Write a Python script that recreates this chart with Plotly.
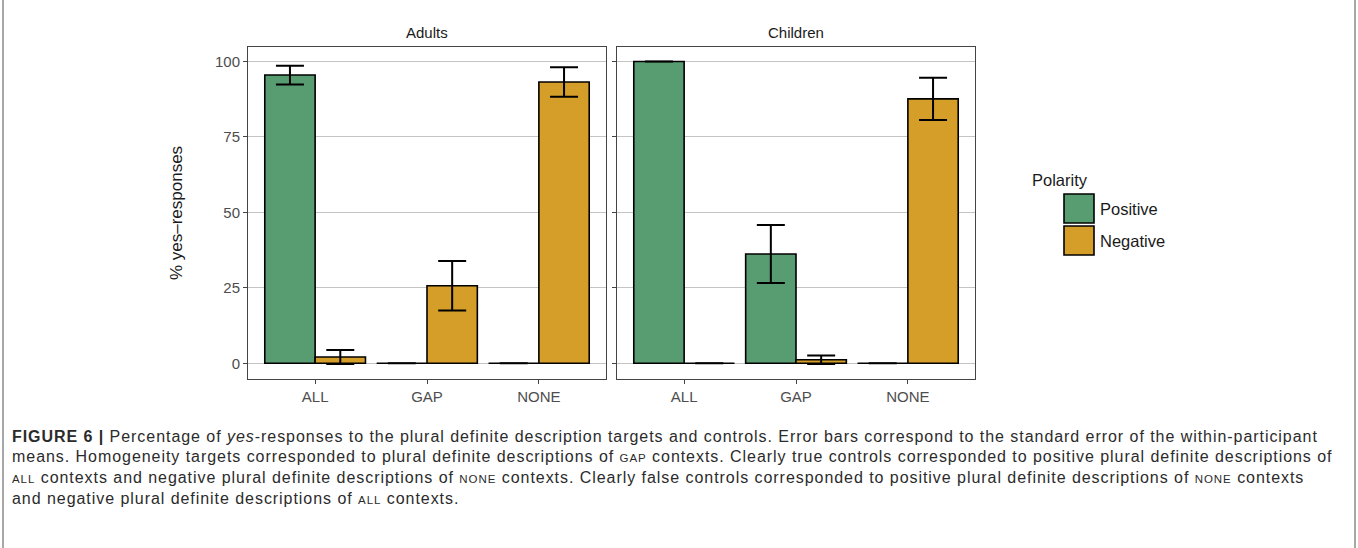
import plotly.graph_objects as go

# ---- data ----
categories = ["ALL", "GAP", "NONE"]
panels = ["Adults", "Children"]
polarities = ["Positive", "Negative"]

adults_positive = [95.5, 0.0, 0.0]
adults_positive_se = [3.1, 0.0, 0.0]
adults_negative = [2.1, 25.7, 93.2]
adults_negative_se = [2.3, 8.2, 4.9]

children_positive = [100.0, 36.2, 0.0]
children_positive_se = [0.0, 9.6, 0.0]
children_negative = [0.0, 1.2, 87.6]
children_negative_se = [0.0, 1.4, 7.0]

y_ticks = [0, 25, 50, 75, 100]

colors = {"Positive": "#589D72", "Negative": "#D49E29"}

W, H = 1358, 548


def px(x):
    return x / W


def py(y):
    return 1 - y / H


fig = go.Figure()

series = {
    ("Adults", "Positive"): (adults_positive, adults_positive_se),
    ("Adults", "Negative"): (adults_negative, adults_negative_se),
    ("Children", "Positive"): (children_positive, children_positive_se),
    ("Children", "Negative"): (children_negative, children_negative_se),
}

for i, panel in enumerate(panels):
    xa = "x" if i == 0 else "x2"
    ya = "y" if i == 0 else "y2"
    for pol in polarities:
        vals, se = series[(panel, pol)]
        fig.add_trace(go.Bar(
            x=categories, y=vals, name=pol, offsetgroup=pol,
            xaxis=xa, yaxis=ya, showlegend=False,
            marker=dict(color=colors[pol], line=dict(color="black", width=1.6)),
            error_y=dict(type="data", array=se, visible=True, color="black",
                         thickness=2, width=14),
        ))

axis_common = dict(
    showline=True, linecolor="#444", linewidth=1, mirror=True,
    ticks="outside", ticklen=4, tickcolor="#444", tickwidth=1,
    zeroline=False,
)

fig.update_layout(
    width=W, height=H,
    margin=dict(l=0, r=0, t=0, b=0),
    paper_bgcolor="white", plot_bgcolor="white",
    barmode="group", bargap=0.1, bargroupgap=0,
    font=dict(family="Liberation Sans, Arial, sans-serif", color="#4d4d4d"),
    xaxis=dict(domain=[px(248), px(606)], range=[-0.6, 2.6], type="category",
               showgrid=False, tickfont=dict(size=15, color="#4d4d4d"), anchor="y",
               **axis_common),
    xaxis2=dict(domain=[px(617), px(975)], range=[-0.6, 2.6], type="category",
                showgrid=False, tickfont=dict(size=15, color="#4d4d4d"), anchor="y2",
                **axis_common),
    yaxis=dict(domain=[py(379), py(47)], range=[-5.2, 104.8], tickvals=y_ticks,
               showgrid=True, gridcolor="#c4c4c4", gridwidth=1.2,
               tickfont=dict(size=15, color="#4d4d4d"), anchor="x",
               title=dict(text="% yes–responses", font=dict(size=17, color="#1a1a1a"),
                          standoff=28),
               **axis_common),
    yaxis2=dict(domain=[py(379), py(47)], range=[-5.2, 104.8], tickvals=y_ticks,
                showgrid=True, gridcolor="#c4c4c4", gridwidth=1.2,
                showticklabels=False, anchor="x2", matches="y",
                **axis_common),
)

annotations = []
# strip titles
for name, cx in (("Adults", 427), ("Children", 796)):
    annotations.append(dict(text=name, x=px(cx), y=py(32), xref="paper", yref="paper",
                            xanchor="center", yanchor="middle",
                            showarrow=False, font=dict(size=15, color="#1a1a1a")))

# legend (manual, to match the large key boxes)
shapes = []
annotations.append(dict(text="Polarity", x=px(1030), y=py(180), xref="paper", yref="paper",
                        xanchor="left", yanchor="middle", showarrow=False,
                        font=dict(size=16.5, color="#1a1a1a")))
key_tops = [194, 226]
for pol, top in zip(polarities, key_tops):
    shapes.append(dict(type="rect", xref="paper", yref="paper",
                       x0=px(1064), x1=px(1094), y0=py(top + 29), y1=py(top),
                       fillcolor=colors[pol], line=dict(color="black", width=1.6)))
    annotations.append(dict(text=pol, x=px(1098), y=py(top + 15), xref="paper", yref="paper",
                            xanchor="left", yanchor="middle", showarrow=False,
                            font=dict(size=16.5, color="#1a1a1a")))

# caption
sc = lambda s: f"<span style='font-size:11.5px'>{s}</span>"
caption_lines = [
    "<b>FIGURE 6 |</b> Percentage of <i>yes</i>-responses to the plural definite description targets and controls. "
    "Error bars correspond to the standard error of the within-participant",
    f"means. Homogeneity targets corresponded to plural definite descriptions of {sc('GAP')} contexts. "
    "Clearly true controls corresponded to positive plural definite descriptions of",
    f"{sc('ALL')} contexts and negative plural definite descriptions of {sc('NONE')} contexts. "
    f"Clearly false controls corresponded to positive plural definite descriptions of {sc('NONE')} contexts",
    f"and negative plural definite descriptions of {sc('ALL')} contexts.",
]
for k, line in enumerate(caption_lines):
    annotations.append(dict(text=f"<span style='letter-spacing:0.95px'>{line}</span>",
                            x=px(10), y=py(436 + 20.7 * k), xref="paper", yref="paper",
                            xanchor="left", yanchor="middle", showarrow=False, align="left",
                            font=dict(size=16, color="#2b2b2b")))

# outer frame lines
for xv in (3, 1355):
    shapes.append(dict(type="line", xref="paper", yref="paper", x0=px(xv), x1=px(xv),
                       y0=0, y1=1, line=dict(color="#8a8a8a", width=1.5)))

fig.update_layout(annotations=annotations, shapes=shapes)

fig.write_html(
    "out.html",
    config={"displayModeBar": False},
    post_script="document.body.style.margin='0px';document.body.style.overflow='hidden';",
)
